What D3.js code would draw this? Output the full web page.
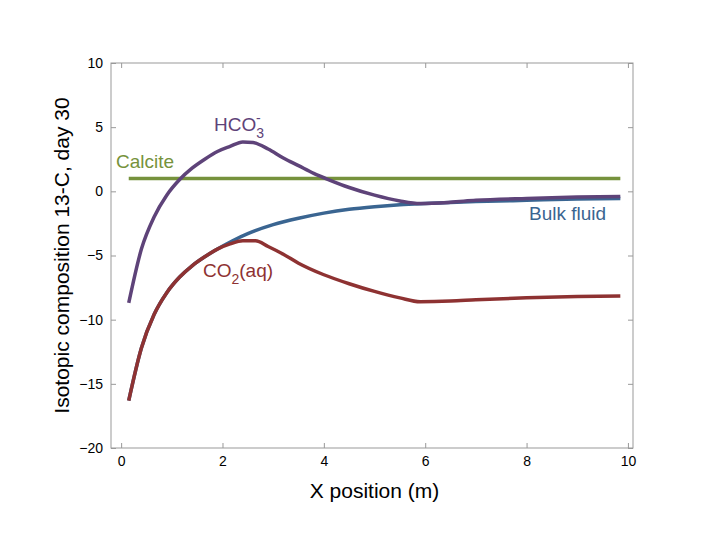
<!DOCTYPE html><html><head><script src="https://cdn.jsdelivr.net/npm/d3@7"></script>
<style>body{margin:0;background:#fff}text{font-family:"Liberation Sans",Arial,sans-serif}</style></head><body>
<svg id="c" width="720" height="540"></svg>
<script>
const xTicks=[0,2,4,6,8,10];
const yTicks=[-20,-15,-10,-5,0,5,10];
const hcoX=[0.15,0.4,0.65,0.9,1.15,1.4,1.65,1.9,2.15,2.4,2.6,2.9,3.2,3.5,3.8,4.1,4.5,5,5.5,5.9,6.5,7,8,9,9.85];
const hcoY=[-8.7,-4.5,-2,-0.3,0.9,1.8,2.5,3.1,3.5,3.85,3.8,3.3,2.6,2.0,1.4,0.9,0.3,-0.3,-0.75,-0.95,-0.85,-0.7,-0.55,-0.45,-0.4];
const bulkX=[0.15,0.4,0.65,0.9,1.15,1.4,1.65,1.9,2.2,2.5,3,3.5,4,4.5,5,5.5,6,7,8,9,9.85];
const bulkY=[-16.3,-12.2,-9.6,-7.9,-6.7,-5.8,-5.1,-4.5,-3.85,-3.3,-2.6,-2.1,-1.7,-1.4,-1.2,-1.05,-0.95,-0.8,-0.7,-0.6,-0.55];
const co2X=[0.15,0.4,0.65,0.9,1.15,1.4,1.65,1.9,2.15,2.4,2.65,2.9,3.2,3.5,4,4.5,5,5.5,5.9,6.5,7,8,9,9.85];
const co2Y=[-16.3,-12.2,-9.6,-7.9,-6.7,-5.8,-5.1,-4.5,-4.1,-3.85,-3.85,-4.3,-4.9,-5.6,-6.5,-7.2,-7.8,-8.3,-8.6,-8.55,-8.45,-8.3,-8.2,-8.15];
const calX=[0.15,9.85], calY=[1,1];
const L=111,R=633,T=63,B=448;
const svg=d3.select("#c");
const x=d3.scaleLinear().domain([-0.2,10.1]).range([L,R]);
const y=d3.scaleLinear().domain([-20,10]).range([B,T]);
svg.append("rect").attr("x",L).attr("y",T).attr("width",R-L).attr("height",B-T).attr("fill","none").attr("stroke","#999");
const fmt=d=>d<0?"\u2212"+(-d):d;
const ax=svg.append("g").attr("transform",`translate(0,${B})`).call(d3.axisBottom(x).tickValues(xTicks).tickSize(-5).tickPadding(8).tickFormat(fmt));
const ax2=svg.append("g").attr("transform",`translate(0,${T})`).call(d3.axisTop(x).tickValues(xTicks).tickSize(-5).tickFormat(""));
const ay=svg.append("g").attr("transform",`translate(${L},0)`).call(d3.axisLeft(y).tickValues(yTicks).tickSize(-5).tickPadding(8).tickFormat(fmt));
const ay2=svg.append("g").attr("transform",`translate(${R},0)`).call(d3.axisRight(y).tickValues(yTicks).tickSize(-5).tickFormat(""));
[ax,ax2,ay,ay2].forEach(g=>{g.select(".domain").remove();g.selectAll("line").attr("stroke","#999");g.selectAll("text").attr("font-size",14).attr("fill","#000").style("font-family","Liberation Sans");});
const line=(xs,ys)=>d3.line().curve(d3.curveMonotoneX)(xs.map((v,i)=>[x(v),y(ys[i])]));
const draw=(xs,ys,c)=>svg.append("path").attr("d",line(xs,ys)).attr("fill","none").attr("stroke",c).attr("stroke-width",3.5);
draw(bulkX,bulkY,"#3a6591");
draw(co2X,co2Y,"#8e3232");
draw(calX,calY,"#76923c");
draw(hcoX,hcoY,"#5e4379");
svg.append("text").attr("x",x(5)).attr("y",498).attr("text-anchor","middle").attr("font-size",21).text("X position (m)");
svg.append("text").attr("transform",`translate(69,${(T+B)/2}) rotate(-90)`).attr("text-anchor","middle").attr("font-size",21).text("Isotopic composition 13-C, day 30");
const lab=(t,px,py,c)=>svg.append("text").attr("x",px).attr("y",py).attr("fill",c).attr("font-size",19).html(t);
lab('HCO<tspan dy="7" font-size="14">3</tspan><tspan dx="-8" dy="-15" font-size="14">-</tspan>',214,131,"#5e4379");
lab("Calcite",116,168,"#76923c");
lab("Bulk fluid",529,220,"#3a6591");
lab('CO<tspan dy="7" font-size="14">2</tspan><tspan dy="-7">(aq)</tspan>',203,277,"#8e3232");
</script></body></html>
